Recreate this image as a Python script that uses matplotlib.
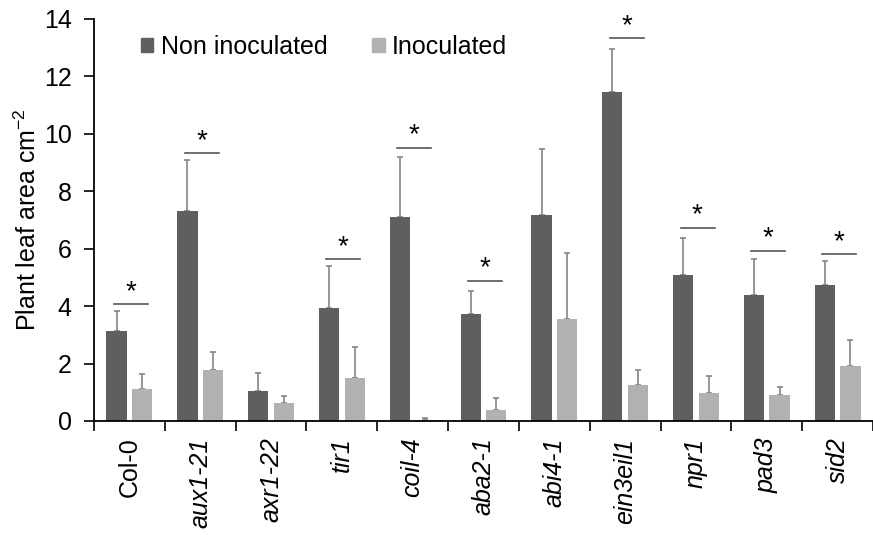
import matplotlib
matplotlib.use("Agg")
import matplotlib.pyplot as plt
import numpy as np
from matplotlib.patches import Patch

plt.rcParams['font.family'] = ['Liberation Sans', 'DejaVu Sans']
plt.rcParams['mathtext.fontset'] = 'custom'
plt.rcParams['mathtext.rm'] = 'Liberation Sans'

genotypes = ["Col-0", "aux1-21", "axr1-22", "tir1", "coil-4", "aba2-1",
             "abi4-1", "ein3eil1", "npr1", "pad3", "sid2"]
italic = [False, True, True, True, True, True, True, True, True, True, True]

non_inoc = [3.13, 7.30, 1.05, 3.95, 7.12, 3.71, 7.18, 11.46, 5.09, 4.38, 4.73]
non_inoc_err = [0.70, 1.78, 0.63, 1.46, 2.06, 0.82, 2.29, 1.50, 1.29, 1.25, 0.84]
inoc = [1.11, 1.77, 0.61, 1.50, 0.05, 0.37, 3.54, 1.26, 0.96, 0.90, 1.91]
inoc_err = [0.52, 0.62, 0.27, 1.09, 0.04, 0.43, 2.32, 0.51, 0.61, 0.28, 0.92]

# significance bars: genotype index and line height
sig_index = [0, 1, 3, 4, 5, 7, 8, 9, 10]
sig_height = [4.06, 9.32, 5.63, 9.51, 4.88, 13.33, 6.72, 5.93, 5.80]

yticks = [0, 2, 4, 6, 8, 10, 12, 14]

dark = "#5f5f5f"
light = "#b1b1b1"
errc = "#858585"
fs = 18

W, H = 873, 535
fig = plt.figure(figsize=(W / 100, H / 100), dpi=100)
left = 94 / W
bottom = 1 - 421 / H
top = 1 - 19 / H
ax = fig.add_axes([left, bottom, 1 - left, top - bottom])

x = np.arange(len(genotypes))
bw = 0.286
off = 0.181
ax.bar(x - off, non_inoc, bw, color=dark, zorder=2)
ax.bar(x + off, inoc, bw, color=light, zorder=2)
ax.errorbar(x - off, non_inoc, yerr=[np.zeros(len(x)), non_inoc_err], fmt='none',
            ecolor=errc, elinewidth=1.2, capsize=2.5, capthick=1.2, zorder=1)
ax.errorbar(x + off, inoc, yerr=[np.zeros(len(x)), inoc_err], fmt='none',
            ecolor=errc, elinewidth=1.2, capsize=2.5, capthick=1.2, zorder=1)

for i, h in zip(sig_index, sig_height):
    ax.plot([i - 0.218, i + 0.262], [h, h], color="#555555", lw=1.2, zorder=3)
    ax.annotate("*", (i + 0.02, h), xytext=(0, 9), textcoords="offset points",
                ha="center", va="center", fontsize=20, color="black")

ax.set_xlim(-0.5, -0.5 + (W - 94) / 71.7)
ax.set_ylim(0, 14)
ax.set_yticks(yticks)
ax.set_yticklabels([str(v) for v in yticks], fontsize=fs)
ax.tick_params(axis='y', direction='out', length=7, width=1.2, pad=9)

ax.set_xticks(np.arange(len(genotypes) + 1) - 0.5)
ax.set_xticklabels([])
ax.tick_params(axis='x', which='major', direction='out', length=7, width=1.2)
ax.set_xticks(x, minor=True)
ax.set_xticklabels(genotypes, minor=True, rotation=90, fontsize=fs)
for lab, it in zip(ax.get_xticklabels(minor=True), italic):
    if it:
        lab.set_style("italic")
ax.tick_params(axis='x', which='minor', length=0, pad=12)

for s in ["top", "right"]:
    ax.spines[s].set_visible(False)
for s in ["left", "bottom"]:
    ax.spines[s].set_linewidth(1.3)
    ax.spines[s].set_color("black")

ax.set_ylabel("Plant leaf area cm$^{\\mathrm{-2}}$", fontsize=fs, labelpad=2)

handles = [Patch(color=dark, label="Non inoculated"), Patch(color=light, label="Inoculated")]
ax.legend(handles=handles, loc="upper left", bbox_to_anchor=(0.047, 0.985), ncol=2,
          frameon=False, fontsize=fs, handlelength=0.5, handleheight=0.5,
          handletextpad=0.3, columnspacing=1.8, borderaxespad=0)

fig.savefig("out.png", dpi=100)
